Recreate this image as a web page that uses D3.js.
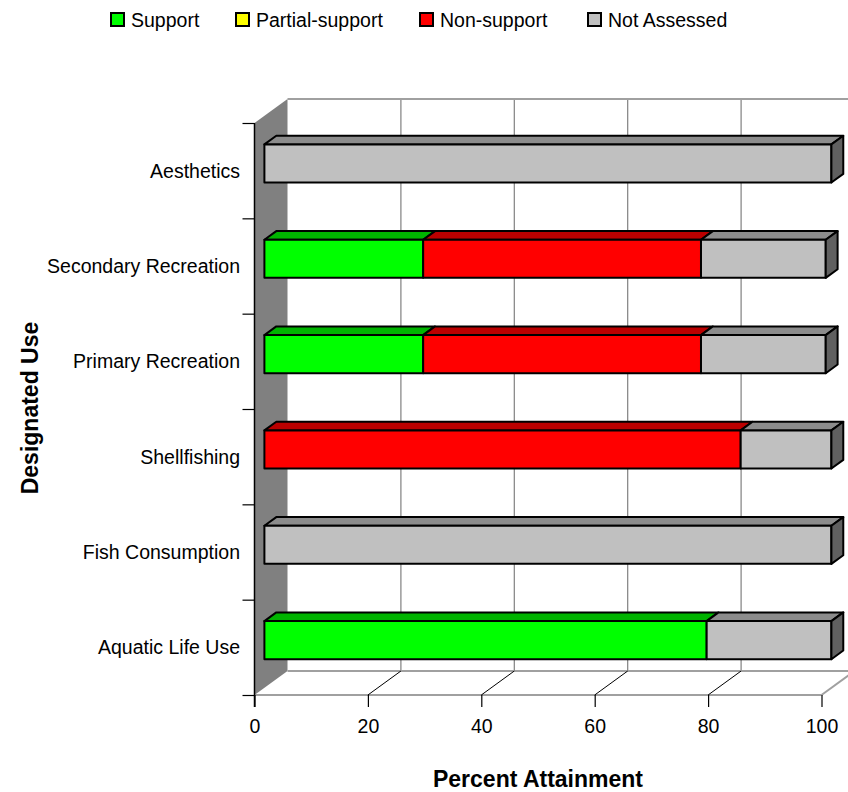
<!DOCTYPE html>
<html>
<head>
<meta charset="utf-8">
<script src="https://cdn.jsdelivr.net/npm/d3@7"></script>
<style>
  body { margin: 0; background: #fff; }
  svg { display: block; font-family: "Liberation Sans", Arial, sans-serif; }
</style>
</head>
<body>
<svg id="chart" width="848" height="792"></svg>
<script>
// ---- data ----
const categories = ["Aesthetics", "Secondary Recreation", "Primary Recreation", "Shellfishing", "Fish Consumption", "Aquatic Life Use"];
const seriesNames = ["Support", "Partial-support", "Non-support", "Not Assessed"];
const support        = [0, 28, 28, 0, 0, 78];
const partialSupport = [0, 0, 0, 0, 0, 0];
const nonSupport     = [0, 49, 49, 84, 0, 0];
const notAssessed    = [100, 22, 22, 16, 100, 22];
const xTicks = [0, 20, 40, 60, 80, 100];

const frontColors = ["#00ff00", "#ffff00", "#ff0000", "#c0c0c0"];
const topColors   = ["#00b400", "#b4b400", "#bb0000", "#8c8c8c"];
const sideColor = "#606060";

const svg = d3.select("#chart");
const X0 = 254.5, X1 = 821.5, Y0 = 123, Y1 = 695;
const DX = 33, DY = -24;           // full depth offset
const z0 = 0.3, z1 = 0.66;         // bar depth span

const x = d3.scaleLinear().domain([0, 100]).range([X0, X1]);
const y = d3.scaleBand().domain(categories).range([Y0, Y1]).paddingInner(0.6).paddingOuter(0.3);
const yOuter = d3.scaleBand().domain(categories).range([Y0, Y1]).padding(0);

const pt = (px, py, z) => [px + DX * z, py + DY * z];
const poly = pts => "M" + pts.map(p => p.join(",")).join("L") + "Z";

// back wall
const backRight = 900;
svg.append("rect").attr("x", X0 + DX).attr("y", Y0 + DY).attr("width", backRight - X0 - DX).attr("height", Y1 - Y0).attr("fill", "#fff");
// left wall
svg.append("path").attr("d", poly([[X0, Y0], pt(X0, Y0, 1), pt(X0, Y1, 1), [X0, Y1]])).attr("fill", "#808080");
// back gridlines
const g = svg.append("g");
xTicks.forEach(v => {
  if (v === 0) return;
  const a = pt(x(v), Y0, 1), b = pt(x(v), Y1, 1);
  g.append("line").attr("x1", a[0]).attr("y1", a[1]).attr("x2", b[0]).attr("y2", b[1]).attr("stroke", "#808080").attr("stroke-width", 1.2);
});
// back top edge
g.append("line").attr("x1", X0 + DX).attr("y1", Y0 + DY).attr("x2", backRight).attr("y2", Y0 + DY).attr("stroke", "#a0a0a0").attr("stroke-width", 2);
// floor
const fa = pt(X0, Y1, 1), fb = pt(X1, Y1, 1);
g.append("line").attr("x1", fa[0]).attr("y1", fa[1]).attr("x2", backRight).attr("y2", fa[1]).attr("stroke", "#a0a0a0").attr("stroke-width", 2);
g.append("line").attr("x1", X0).attr("y1", Y1).attr("x2", X1).attr("y2", Y1).attr("stroke", "#a0a0a0").attr("stroke-width", 2);
g.append("line").attr("x1", X1).attr("y1", Y1).attr("x2", fb[0]).attr("y2", fb[1]).attr("stroke", "#a0a0a0").attr("stroke-width", 2);
// floor diagonals
xTicks.forEach(v => {
  if (v === 0 || v === 100) return;
  const b = pt(x(v), Y1, 1);
  g.append("line").attr("x1", x(v)).attr("y1", Y1).attr("x2", b[0]).attr("y2", b[1]).attr("stroke", "#000").attr("stroke-width", 1);
});

// bars
const seriesData = [support, partialSupport, nonSupport, notAssessed];
const bars = svg.append("g");
categories.forEach((c, i) => {
  let acc = 0;
  const segs = [];
  seriesData.forEach((arr, s) => {
    const v = arr[i];
    if (v > 0) { segs.push({ s, a: acc, b: acc + v }); }
    acc += v;
  });
  const yt = y(c), yb = y(c) + y.bandwidth();
  segs.forEach((sg, k) => {
    const xa = x(sg.a), xb = x(sg.b);
    bars.append("path").attr("d", poly([pt(xa, yt, z0), pt(xb, yt, z0), pt(xb, yt, z1), pt(xa, yt, z1)]))
      .attr("fill", topColors[sg.s]).attr("stroke", "#000").attr("stroke-width", 2).attr("stroke-linejoin", "round");
    bars.append("path").attr("d", poly([pt(xa, yt, z0), pt(xb, yt, z0), pt(xb, yb, z0), pt(xa, yb, z0)]))
      .attr("fill", frontColors[sg.s]).attr("stroke", "#000").attr("stroke-width", 2).attr("stroke-linejoin", "round");
    if (k === segs.length - 1) {
      bars.append("path").attr("d", poly([pt(xb, yt, z0), pt(xb, yt, z1), pt(xb, yb, z1), pt(xb, yb, z0)]))
        .attr("fill", sideColor).attr("stroke", "#000").attr("stroke-width", 2).attr("stroke-linejoin", "round");
    }
  });
});

// y axis line and ticks (band boundaries)
const yb = d3.scaleLinear().domain([0, categories.length]).range([Y0, Y1]);
const yAxis = d3.axisLeft(yb).ticks(categories.length).tickSize(12).tickFormat("");
const yg = svg.append("g").attr("transform", `translate(${X0},0)`).call(yAxis);
yg.select(".domain").remove();
yg.selectAll(".tick line").attr("stroke", "#000").attr("stroke-width", 1.2);
svg.append("line").attr("x1", X0).attr("y1", Y0).attr("x2", X0).attr("y2", Y1 + 12).attr("stroke", "#000").attr("stroke-width", 1.5);

// category labels
svg.append("g").selectAll("text").data(categories).join("text")
  .attr("x", 240).attr("y", d => yOuter(d) + yOuter.bandwidth() / 2)
  .attr("text-anchor", "end").attr("dominant-baseline", "central")
  .attr("font-size", "19.5px").attr("fill", "#000").text(d => d);

// x axis
const xAxis = d3.axisBottom(x).tickValues(xTicks).tickSize(12).tickPadding(12).tickFormat(d3.format("d"));
const xg = svg.append("g").attr("transform", `translate(0,${Y1})`).call(xAxis);
xg.select(".domain").remove();
xg.selectAll(".tick line").attr("stroke", "#000").attr("stroke-width", 1.2);
xg.selectAll(".tick text").attr("font-size", "19.5px").attr("fill", "#000").attr("font-family", "Liberation Sans, Arial, sans-serif");

// axis titles
svg.append("text").attr("x", 538).attr("y", 787).attr("text-anchor", "middle")
  .attr("font-size", "23px").attr("font-weight", "bold").text("Percent Attainment");
svg.append("text").attr("transform", "translate(38,408) rotate(-90)").attr("text-anchor", "middle")
  .attr("font-size", "23px").attr("font-weight", "bold").text("Designated Use");

// legend
const legendX = [111, 236, 420, 588];
const lg = svg.append("g");
seriesNames.forEach((n, i) => {
  lg.append("rect").attr("x", legendX[i]).attr("y", 13).attr("width", 13).attr("height", 13)
    .attr("fill", frontColors[i]).attr("stroke", "#000").attr("stroke-width", 2);
  lg.append("text").attr("x", legendX[i] + 20).attr("y", 20).attr("dominant-baseline", "central")
    .attr("font-size", "19.5px").text(n);
});
</script>
</body>
</html>
